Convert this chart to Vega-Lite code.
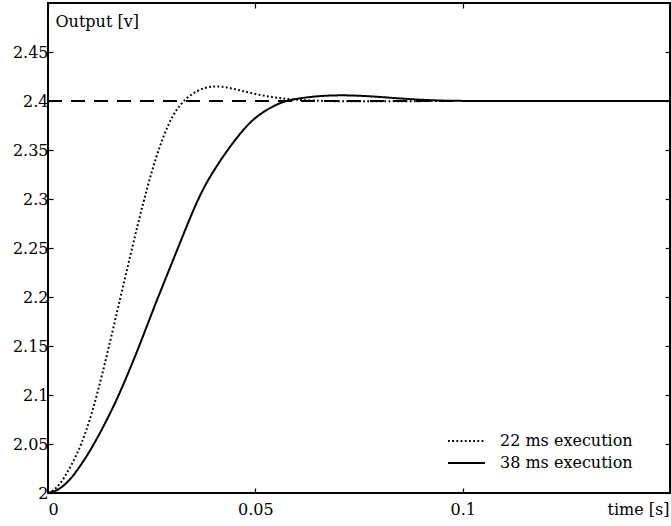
{
  "$schema": "https://vega.github.io/schema/vega-lite/v6.json",
  "width": 622,
  "height": 490,
  "autosize": {"type": "none"},
  "padding": {"left": 48, "top": 3, "right": 1, "bottom": 33},
  "background": "white",
  "config": {
    "view": {"stroke": "black", "strokeWidth": 2},
    "axis": {
      "labelFont": "DejaVu Serif",
      "labelFontSize": 16,
      "labelColor": "black",
      "tickColor": "black",
      "tickSize": -5,
      "tickWidth": 1.2,
      "grid": false,
      "domain": false,
      "titleFont": "DejaVu Serif",
      "titleFontSize": 16,
      "titleFontWeight": "normal",
      "titleColor": "black"
    },
    "legend": {
      "labelFont": "DejaVu Serif",
      "labelFontSize": 16,
      "labelColor": "black"
    }
  },
  "datasets": {
    "ref": [
      {"t": 0, "v": 2.4},
      {"t": 0.15, "v": 2.4}
    ],
    "curves": [
      {"series": "22 ms execution", "t": 0, "v": 2.0},
      {"series": "22 ms execution", "t": 0.002, "v": 2.004},
      {"series": "22 ms execution", "t": 0.004, "v": 2.016},
      {"series": "22 ms execution", "t": 0.006, "v": 2.031},
      {"series": "22 ms execution", "t": 0.008, "v": 2.049},
      {"series": "22 ms execution", "t": 0.010, "v": 2.073},
      {"series": "22 ms execution", "t": 0.012, "v": 2.103},
      {"series": "22 ms execution", "t": 0.014, "v": 2.137},
      {"series": "22 ms execution", "t": 0.016, "v": 2.173},
      {"series": "22 ms execution", "t": 0.018, "v": 2.209},
      {"series": "22 ms execution", "t": 0.020, "v": 2.245},
      {"series": "22 ms execution", "t": 0.022, "v": 2.280},
      {"series": "22 ms execution", "t": 0.024, "v": 2.313},
      {"series": "22 ms execution", "t": 0.026, "v": 2.342},
      {"series": "22 ms execution", "t": 0.028, "v": 2.366},
      {"series": "22 ms execution", "t": 0.030, "v": 2.385},
      {"series": "22 ms execution", "t": 0.032, "v": 2.397},
      {"series": "22 ms execution", "t": 0.034, "v": 2.405},
      {"series": "22 ms execution", "t": 0.036, "v": 2.4105},
      {"series": "22 ms execution", "t": 0.038, "v": 2.4138},
      {"series": "22 ms execution", "t": 0.040, "v": 2.415},
      {"series": "22 ms execution", "t": 0.042, "v": 2.4146},
      {"series": "22 ms execution", "t": 0.044, "v": 2.4132},
      {"series": "22 ms execution", "t": 0.046, "v": 2.4112},
      {"series": "22 ms execution", "t": 0.048, "v": 2.409},
      {"series": "22 ms execution", "t": 0.052, "v": 2.4053},
      {"series": "22 ms execution", "t": 0.056, "v": 2.4028},
      {"series": "22 ms execution", "t": 0.060, "v": 2.4012},
      {"series": "22 ms execution", "t": 0.065, "v": 2.4002},
      {"series": "22 ms execution", "t": 0.070, "v": 2.3997},
      {"series": "22 ms execution", "t": 0.080, "v": 2.3996},
      {"series": "22 ms execution", "t": 0.090, "v": 2.3999},
      {"series": "22 ms execution", "t": 0.097, "v": 2.4},
      {"series": "38 ms execution", "t": 0, "v": 2.0},
      {"series": "38 ms execution", "t": 0.002, "v": 2.002},
      {"series": "38 ms execution", "t": 0.004, "v": 2.008},
      {"series": "38 ms execution", "t": 0.006, "v": 2.017},
      {"series": "38 ms execution", "t": 0.008, "v": 2.029},
      {"series": "38 ms execution", "t": 0.010, "v": 2.042},
      {"series": "38 ms execution", "t": 0.012, "v": 2.057},
      {"series": "38 ms execution", "t": 0.014, "v": 2.073},
      {"series": "38 ms execution", "t": 0.016, "v": 2.090},
      {"series": "38 ms execution", "t": 0.018, "v": 2.109},
      {"series": "38 ms execution", "t": 0.020, "v": 2.129},
      {"series": "38 ms execution", "t": 0.022, "v": 2.150},
      {"series": "38 ms execution", "t": 0.024, "v": 2.172},
      {"series": "38 ms execution", "t": 0.026, "v": 2.194},
      {"series": "38 ms execution", "t": 0.028, "v": 2.215},
      {"series": "38 ms execution", "t": 0.030, "v": 2.236},
      {"series": "38 ms execution", "t": 0.032, "v": 2.257},
      {"series": "38 ms execution", "t": 0.034, "v": 2.278},
      {"series": "38 ms execution", "t": 0.036, "v": 2.298},
      {"series": "38 ms execution", "t": 0.038, "v": 2.315},
      {"series": "38 ms execution", "t": 0.040, "v": 2.329},
      {"series": "38 ms execution", "t": 0.042, "v": 2.342},
      {"series": "38 ms execution", "t": 0.044, "v": 2.354},
      {"series": "38 ms execution", "t": 0.046, "v": 2.365},
      {"series": "38 ms execution", "t": 0.048, "v": 2.375},
      {"series": "38 ms execution", "t": 0.050, "v": 2.383},
      {"series": "38 ms execution", "t": 0.052, "v": 2.389},
      {"series": "38 ms execution", "t": 0.054, "v": 2.394},
      {"series": "38 ms execution", "t": 0.056, "v": 2.398},
      {"series": "38 ms execution", "t": 0.058, "v": 2.4007},
      {"series": "38 ms execution", "t": 0.061, "v": 2.403},
      {"series": "38 ms execution", "t": 0.065, "v": 2.405},
      {"series": "38 ms execution", "t": 0.070, "v": 2.406},
      {"series": "38 ms execution", "t": 0.075, "v": 2.4055},
      {"series": "38 ms execution", "t": 0.080, "v": 2.4042},
      {"series": "38 ms execution", "t": 0.085, "v": 2.4025},
      {"series": "38 ms execution", "t": 0.090, "v": 2.4012},
      {"series": "38 ms execution", "t": 0.095, "v": 2.4004},
      {"series": "38 ms execution", "t": 0.100, "v": 2.4},
      {"series": "38 ms execution", "t": 0.120, "v": 2.4},
      {"series": "38 ms execution", "t": 0.150, "v": 2.4}
    ]
  },
  "layer": [
    {
      "data": {"name": "ref"},
      "mark": {"type": "line", "color": "black", "strokeWidth": 2, "strokeDash": [14, 9], "clip": true},
      "encoding": {
        "x": {"field": "t", "type": "quantitative", "scale": {"domain": [0, 0.15], "nice": false, "zero": false},
          "axis": {"orient": "top", "labels": false, "title": null, "values": [0, 0.05, 0.1]}},
        "y": {"field": "v", "type": "quantitative", "scale": {"domain": [2, 2.5], "nice": false, "zero": false},
          "axis": {"orient": "right", "labels": false, "title": null, "values": [2, 2.05, 2.1, 2.15, 2.2, 2.25, 2.3, 2.35, 2.4, 2.45]}}
      }
    },
    {
      "data": {"name": "curves"},
      "mark": {"type": "line", "color": "black", "strokeWidth": 2, "interpolate": "basis", "clip": true},
      "encoding": {
        "x": {"field": "t", "type": "quantitative",
          "axis": {"orient": "bottom", "values": [0, 0.05, 0.1], "format": "~g", "labelPadding": 13,
            "title": "time [s]", "titleX": 621, "titleY": 21, "titleAlign": "right", "titleBaseline": "alphabetic", "titleAnchor": null}},
        "y": {"field": "v", "type": "quantitative",
          "axis": {"orient": "left", "values": [2, 2.05, 2.1, 2.15, 2.2, 2.25, 2.3, 2.35, 2.4, 2.45], "format": "~g", "labelPadding": 5,
            "title": "Output [v]", "titleAngle": 0, "titleX": 7, "titleY": 23, "titleAlign": "left", "titleBaseline": "alphabetic", "titleAnchor": null}},
        "strokeDash": {"field": "series", "type": "nominal",
          "scale": {"domain": ["22 ms execution", "38 ms execution"], "range": [[1.8, 2.4], [1, 0]]},
          "legend": {"title": null, "orient": "none", "legendX": 399, "legendY": 428, "symbolType": "stroke", "symbolSize": 1369,
            "symbolStrokeWidth": 2, "symbolStrokeColor": "black", "labelOffset": 14, "rowPadding": 2, "clipHeight": 20, "padding": 0}}
      }
    }
  ],
  "resolve": {"axis": {"x": "independent", "y": "independent"}}
}
